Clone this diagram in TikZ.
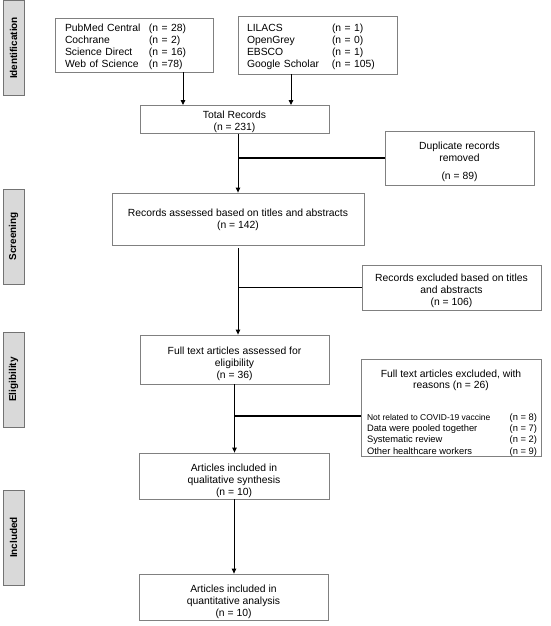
\documentclass[tikz,border=0pt]{standalone}
\usepackage{fontspec}
\setmainfont{Liberation Sans}
\usetikzlibrary{arrows.meta}

\begin{document}
\begin{tikzpicture}[x=1bp, y=-1bp,
    box/.style={draw=black!50, line width=.8bp, fill=white, inner sep=1bp,
                align=center, font=\fontsize{10.4}{12}\selectfont},
    phase/.style={draw=black!55, fill=black!15, line width=.8bp, rotate=90,
                  minimum width=95bp, minimum height=21bp, inner sep=0pt,
                  font=\fontsize{10}{12}\selectfont\bfseries},
    arr/.style={line width=.9bp, -{Triangle[length=5bp,width=4.5bp]}},
    branch/.style={line width=1.1bp}]
            \useasboundingbox (0,0) rectangle (551,626);
            % phases
            \node[phase] (ident) at (13.5,48) {Identification};
            \node[phase] (screen) at (13.5,236.5) {Screening};
            \node[phase] (elig) at (13.5,379.5) {Eligibility};
            \node[phase] (incl) at (13.5,537.5) {Included};
            % sources
            \node[box, minimum width=158bp, minimum height=54bp, text width=138bp,
                  inner xsep=10bp, align=left] (srcA) at (134,45)
                 {\begin{tabular}{@{}p{84bp}@{}l@{}}
                  \rule{0pt}{12bp}PubMed Central & (n = 28)\\ Cochrane & (n = 2)\\
                  Science Direct & (n = 16)\\ Web of Science & (n =78)
                  \end{tabular}};
            \node[box, minimum width=159bp, minimum height=58bp, text width=141bp,
                  inner xsep=9bp, align=left] (srcB) at (317.5,45)
                 {\begin{tabular}{@{}p{85bp}@{}l@{}}
                  \rule{0pt}{12bp}LILACS & (n = 1)\\ OpenGrey & (n = 0)\\
                  EBSCO & (n = 1)\\ Google Scholar & (n = 105)
                  \end{tabular}};
            \node[box, minimum width=189bp, minimum height=27bp] (total) at (234.5,119.5)
                 {\rule{0pt}{12bp}Total Records\\(n = 231)};
            \node[box, minimum width=149bp, minimum height=54bp] (dup) at (459.5,158)
                 {\rule{0pt}{16bp}Duplicate records\\removed\\[6bp](n = 89)};
            % screening
            \node[box, minimum width=252bp, minimum height=52bp] (assessed) at (238,219)
                 {\rule{0pt}{10bp}Records assessed based on titles and abstracts\\(n = 142)};
            \node[box, minimum width=179bp, minimum height=45bp] (excl) at (451.5,287.5)
                 {\rule{0pt}{14bp}Records excluded based on titles\\and abstracts\\(n = 106)};
            % eligibility
            \node[box, minimum width=189bp, minimum height=49bp] (full) at (234.5,359.5)
                 {\rule{0pt}{16bp}Full text articles assessed for\\eligibility\\(n = 36)};
            \node[box, minimum width=180bp, minimum height=97bp] (fullexcl) at (451,407.5)
                 {\parbox[c][95bp][t]{176bp}{\centering
                  \rule{0pt}{17bp}Full text articles excluded, with\\reasons (n = 26)\par
                  \vspace{20.5bp}\leftskip=4bp\rightskip=2bp\fontsize{9.4}{11.2}\selectfont
                  {\fontsize{8.5}{11.2}\selectfont Not related to COVID-19 vaccine}\hfill(n = 8)\\
                  Data were pooled together\hfill(n = 7)\\
                  Systematic review\hfill(n = 2)\\
                  Other healthcare workers\hfill(n = 9)\par}};
            % included
            \node[box, minimum width=190bp, minimum height=46bp] (qual) at (234,476)
                 {\rule{0pt}{17bp}Articles included in\\qualitative synthesis\\(n = 10)};
            \node[box, minimum width=189bp, minimum height=46bp] (quant) at (233.5,597)
                 {\rule{0pt}{17bp}Articles included in\\quantitative analysis\\(n = 10)};
            % connectors
            \draw[arr] ([xshift=49bp]srcA.south) -- ([xshift=49bp]srcA.south |- total.north);
            \draw[arr] ([xshift=-26.5bp]srcB.south) -- ([xshift=-26.5bp]srcB.south |- total.north);
            \draw[arr] (assessed.north |- total.south) -- (assessed.north);
            \draw[branch] (dup.west) -- (dup.west -| assessed.north);
            \draw[arr] ([yshift=-3bp]assessed.south) -- (assessed.south |- full.north);
            \draw[branch] (excl.west) -- (excl.west -| assessed.south);
            \draw[arr] (full.south) -- (full.south |- qual.north);
            \draw[branch] ([yshift=-8.5bp]fullexcl.west) -- ([yshift=-8.5bp]fullexcl.west -| full.south);
            \draw[arr] (qual.south) -- (qual.south |- quant.north);
        \end{tikzpicture}
\end{document}
